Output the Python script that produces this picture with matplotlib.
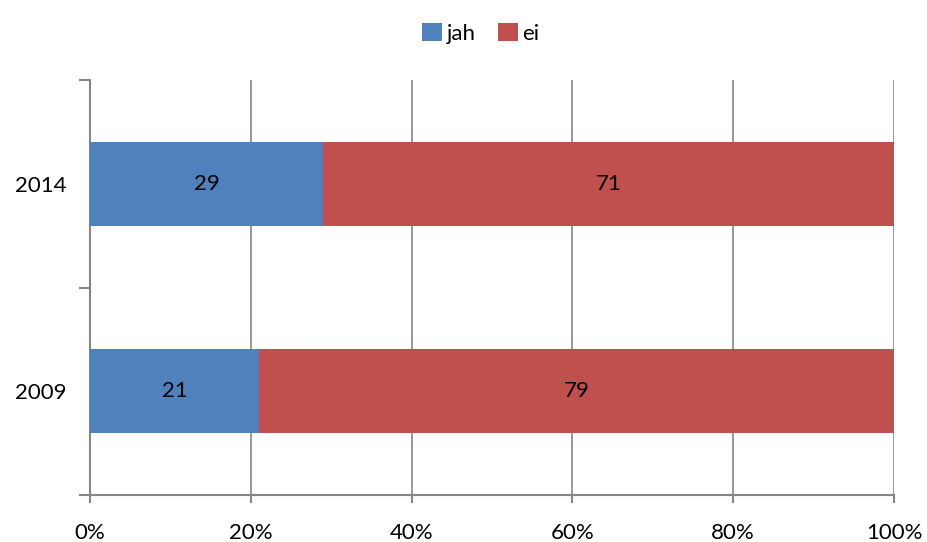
import matplotlib.pyplot as plt
import numpy as np
from matplotlib.ticker import FuncFormatter

plt.rcParams['font.family'] = ['Lato', 'DejaVu Sans']
plt.rcParams['font.size'] = 16

# Data
years = ["2009", "2014"]
jah = [21, 29]
ei = [79, 71]
series_labels = ["jah", "ei"]
colors = ['#4F81BD', '#C0504D']

fig = plt.figure(figsize=(9.28, 5.42), dpi=100)
ax = fig.add_axes([90 / 928, 1 - 495 / 542, 804 / 928, 415 / 542])

y = np.arange(len(years))
h = 0.405
b1 = ax.barh(y, jah, h, color=colors[0], label=series_labels[0], zorder=3)
b2 = ax.barh(y, ei, h, left=jah, color=colors[1], label=series_labels[1], zorder=3)

# value labels in bar centers
for i in range(len(years)):
    ax.text(jah[i] / 2, y[i], str(jah[i]), ha='center', va='center', fontsize=16, zorder=4)
    ax.text(jah[i] + ei[i] / 2, y[i], str(ei[i]), ha='center', va='center', fontsize=16, zorder=4)

ax.set_xlim(0, 100)
ax.set_ylim(-0.5, 1.5)
ax.set_xticks(np.arange(0, 101, 20))
ax.xaxis.set_major_formatter(FuncFormatter(lambda v, p: f'{v:.0f}%'))
ax.set_yticks(y)
ax.set_yticklabels(years)
ax.set_yticks([-0.5, 0.5, 1.5], minor=True)
ax.tick_params(axis='y', which='major', length=0, pad=17)
ax.tick_params(axis='y', which='minor', length=8, width=1.5, color='#868686', direction='out')
ax.tick_params(axis='x', length=6, width=1.5, color='#868686', direction='out', pad=14)

ax.grid(axis='x', color='#868686', linewidth=1.2, zorder=0)
for s in ['top', 'right']:
    ax.spines[s].set_visible(False)
for s in ['left', 'bottom']:
    ax.spines[s].set_color('#868686')
    ax.spines[s].set_linewidth(1.5)

fig.legend(handles=[b1, b2], loc='upper center', bbox_to_anchor=(0.518, 0.995), ncol=2,
           frameon=False, handlelength=0.9, handleheight=0.9, handletextpad=0.2,
           columnspacing=1.0, fontsize=16)

plt.savefig("out.png", dpi=100)
